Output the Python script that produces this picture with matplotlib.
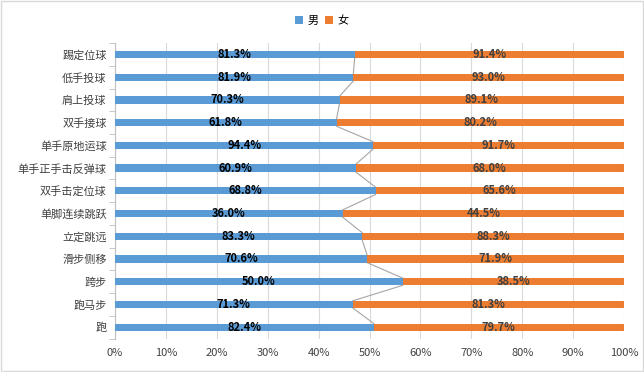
import matplotlib.pyplot as plt
import numpy as np

plt.rcParams['font.family'] = ['Noto Sans CJK SC', 'DejaVu Sans']

# 项目（从上到下）
items = ['踢定位球', '低手投球', '肩上投球', '双手接球', '单手原地运球', '单手正手击反弹球',
         '双手击定位球', '单脚连续跳跃', '立定跳远', '滑步侧移', '跨步', '跑马步', '跑']
# 男、女达标率 (%)
male = [81.3, 81.9, 70.3, 61.8, 94.4, 60.9, 68.8, 36.0, 83.3, 70.6, 50.0, 71.3, 82.4]
female = [91.4, 93.0, 89.1, 80.2, 91.7, 68.0, 65.6, 44.5, 88.3, 71.9, 38.5, 81.3, 79.7]
xticks = [0, 10, 20, 30, 40, 50, 60, 70, 80, 90, 100]

male = np.array(male)
female = np.array(female)
m_share = male / (male + female) * 100
f_share = 100 - m_share
y = np.arange(len(items))
h = 0.32

fig = plt.figure(figsize=(6.44, 3.72), dpi=100)
ax = fig.add_axes([0.1786, 0.09, 0.7904, 0.794])

ax.barh(y, m_share, height=h, color='#5B9BD5', label='男', zorder=3)
ax.barh(y, f_share, left=m_share, height=h, color='#ED7D31', label='女', zorder=3)

# 系列线
for i in range(len(items) - 1):
    ax.plot([m_share[i], m_share[i + 1]], [y[i] + h / 2, y[i + 1] - h / 2],
            color='#A5A5A5', lw=0.8, zorder=2)

for i in range(len(items)):
    ax.text(m_share[i] / 2, y[i], f'{male[i]:.1f}%', ha='center', va='center',
            fontsize=8, fontweight='bold', color='black', zorder=4)
    ax.text(m_share[i] + f_share[i] / 2, y[i], f'{female[i]:.1f}%', ha='center', va='center',
            fontsize=8, fontweight='bold', color='#404040', zorder=4)

ax.set_ylim(len(items) - 0.5, -0.5)
ax.set_xlim(0, 100)
ax.set_yticks(y)
ax.set_yticklabels(items, fontsize=8, color='#404040')
ax.set_yticks(np.arange(-0.5, len(items), 1), minor=True)
ax.tick_params(axis='y', which='major', length=0, pad=6)
ax.tick_params(axis='y', which='minor', length=4, color='#BFBFBF')
ax.set_xticks(xticks)
ax.set_xticklabels([f'{t}%' for t in xticks], fontsize=8, color='#404040')
ax.tick_params(axis='x', length=0, pad=7)
ax.grid(axis='x', color='#D9D9D9', lw=0.8, zorder=0)
for s in ['top', 'right', 'bottom']:
    ax.spines[s].set_visible(False)
ax.spines['left'].set_color('#BFBFBF')

fig.legend(loc='upper center', bbox_to_anchor=(0.5, 0.985), ncol=2, frameon=False,
           fontsize=8, handlelength=0.7, handleheight=0.7, handletextpad=0.4, columnspacing=0.6)

border = plt.Rectangle((0.002, 0.003), 0.996, 0.994, transform=fig.transFigure,
                       fill=False, edgecolor='#D9D9D9', lw=1)
fig.patches.append(border)

fig.savefig('out.png', dpi=100)
